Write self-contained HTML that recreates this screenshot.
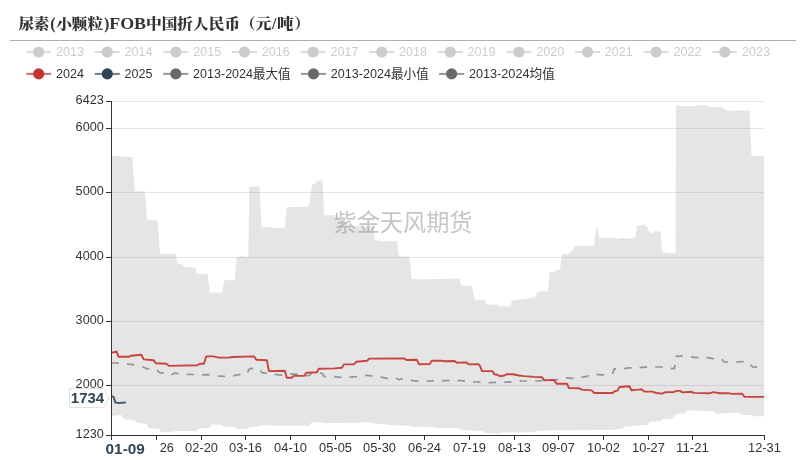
<!DOCTYPE html>
<html lang="zh"><head><meta charset="utf-8"><title>尿素(小颗粒)FOB中国折人民币（元/吨）</title>
<style>
html,body{margin:0;padding:0;background:#fff;}
body{width:806px;height:460px;overflow:hidden;position:relative;font-family:"Liberation Sans","Noto Sans CJK SC",sans-serif;}
svg{position:absolute;left:0;top:0;display:block;}
.ttl{font-family:"Liberation Serif","Noto Serif CJK SC",serif;font-weight:900;font-size:16px;fill:#333;}
.lg{font-size:13px;fill:#333;}
.lgo{font-size:13px;fill:#ccc;}
.ax{font-size:12px;fill:#333;}
.wm{font-size:24px;fill:#8c8c8c;fill-opacity:0.5;}
.ptr{font-size:15px;font-weight:bold;fill:#2f4554;}
</style></head><body>
<svg width="806" height="460" viewBox="0 0 806 460">
<rect x="0" y="0" width="806" height="460" fill="#ffffff"/>
<text class="ttl"><tspan x="18.2" y="28.7" font-size="15" textLength="31.3" lengthAdjust="spacingAndGlyphs">尿素</tspan><tspan x="50.2" y="28.8">(</tspan><tspan x="56.2" y="28.7" font-size="15" textLength="47" lengthAdjust="spacingAndGlyphs">小颗粒</tspan><tspan x="103.9" y="28.8">)</tspan><tspan x="109.2" y="28.8" textLength="36.9" lengthAdjust="spacingAndGlyphs">FOB</tspan><tspan x="146" y="28.7" font-size="15" textLength="125.5" lengthAdjust="spacingAndGlyphs">中国折人民币（元</tspan><tspan x="272.1" y="28.8">/</tspan><tspan x="277" y="28.7" font-size="15" textLength="16.5" lengthAdjust="spacingAndGlyphs">吨</tspan><tspan x="294.2" y="28.7" font-size="15" textLength="15.7" lengthAdjust="spacingAndGlyphs">）</tspan></text>
<rect x="10" y="40" width="786" height="1" fill="#b0b0b0"/>
<g><rect x="26.2" y="51" width="25" height="2" fill="#ccc" fill-opacity="0.7"/><circle cx="38.7" cy="52" r="5.6" fill="#ccc"/><text class="lgo" x="56.0" y="56" textLength="28" lengthAdjust="spacingAndGlyphs">2013</text></g>
<g><rect x="94.8" y="51" width="25" height="2" fill="#ccc" fill-opacity="0.7"/><circle cx="107.3" cy="52" r="5.6" fill="#ccc"/><text class="lgo" x="124.6" y="56" textLength="28" lengthAdjust="spacingAndGlyphs">2014</text></g>
<g><rect x="163.4" y="51" width="25" height="2" fill="#ccc" fill-opacity="0.7"/><circle cx="175.9" cy="52" r="5.6" fill="#ccc"/><text class="lgo" x="193.2" y="56" textLength="28" lengthAdjust="spacingAndGlyphs">2015</text></g>
<g><rect x="232.0" y="51" width="25" height="2" fill="#ccc" fill-opacity="0.7"/><circle cx="244.5" cy="52" r="5.6" fill="#ccc"/><text class="lgo" x="261.8" y="56" textLength="28" lengthAdjust="spacingAndGlyphs">2016</text></g>
<g><rect x="300.6" y="51" width="25" height="2" fill="#ccc" fill-opacity="0.7"/><circle cx="313.1" cy="52" r="5.6" fill="#ccc"/><text class="lgo" x="330.4" y="56" textLength="28" lengthAdjust="spacingAndGlyphs">2017</text></g>
<g><rect x="369.2" y="51" width="25" height="2" fill="#ccc" fill-opacity="0.7"/><circle cx="381.7" cy="52" r="5.6" fill="#ccc"/><text class="lgo" x="399.0" y="56" textLength="28" lengthAdjust="spacingAndGlyphs">2018</text></g>
<g><rect x="437.8" y="51" width="25" height="2" fill="#ccc" fill-opacity="0.7"/><circle cx="450.3" cy="52" r="5.6" fill="#ccc"/><text class="lgo" x="467.6" y="56" textLength="28" lengthAdjust="spacingAndGlyphs">2019</text></g>
<g><rect x="506.4" y="51" width="25" height="2" fill="#ccc" fill-opacity="0.7"/><circle cx="518.9" cy="52" r="5.6" fill="#ccc"/><text class="lgo" x="536.2" y="56" textLength="28" lengthAdjust="spacingAndGlyphs">2020</text></g>
<g><rect x="575.0" y="51" width="25" height="2" fill="#ccc" fill-opacity="0.7"/><circle cx="587.5" cy="52" r="5.6" fill="#ccc"/><text class="lgo" x="604.8" y="56" textLength="28" lengthAdjust="spacingAndGlyphs">2021</text></g>
<g><rect x="643.6" y="51" width="25" height="2" fill="#ccc" fill-opacity="0.7"/><circle cx="656.1" cy="52" r="5.6" fill="#ccc"/><text class="lgo" x="673.4" y="56" textLength="28" lengthAdjust="spacingAndGlyphs">2022</text></g>
<g><rect x="712.2" y="51" width="25" height="2" fill="#ccc" fill-opacity="0.7"/><circle cx="724.7" cy="52" r="5.6" fill="#ccc"/><text class="lgo" x="742.0" y="56" textLength="28" lengthAdjust="spacingAndGlyphs">2023</text></g>
<g><rect x="26.2" y="72.9" width="25" height="2" fill="#c23531" fill-opacity="0.7"/><circle cx="38.7" cy="73.9" r="5.6" fill="#c23531"/><text class="lg" x="56.0" y="77.7" textLength="28" lengthAdjust="spacingAndGlyphs">2024</text></g>
<g><rect x="94.8" y="72.9" width="25" height="2" fill="#2f4554" fill-opacity="0.7"/><circle cx="107.3" cy="73.9" r="5.6" fill="#2f4554"/><text class="lg" x="124.6" y="77.7" textLength="28" lengthAdjust="spacingAndGlyphs">2025</text></g>
<g><rect x="163.3" y="72.9" width="25" height="2" fill="#696969" fill-opacity="0.7"/><circle cx="175.8" cy="73.9" r="5.6" fill="#696969"/><text class="lg" x="193.1" y="77.7" textLength="97.5" lengthAdjust="spacingAndGlyphs">2013-2024最大值</text></g>
<g><rect x="301.0" y="72.9" width="25" height="2" fill="#696969" fill-opacity="0.7"/><circle cx="313.5" cy="73.9" r="5.6" fill="#696969"/><text class="lg" x="330.8" y="77.7" textLength="98" lengthAdjust="spacingAndGlyphs">2013-2024最小值</text></g>
<g><rect x="439.1" y="72.9" width="25" height="2" fill="#696969" fill-opacity="0.7"/><circle cx="451.6" cy="73.9" r="5.6" fill="#696969"/><text class="lg" x="468.9" y="77.7" textLength="86" lengthAdjust="spacingAndGlyphs">2013-2024均值</text></g>
<rect x="111.4" y="101" width="652.7" height="1" fill="#e5e5e5"/>
<rect x="111.4" y="128" width="652.7" height="1" fill="#e5e5e5"/>
<rect x="111.4" y="192" width="652.7" height="1" fill="#e5e5e5"/>
<rect x="111.4" y="257" width="652.7" height="1" fill="#e5e5e5"/>
<rect x="111.4" y="321" width="652.7" height="1" fill="#e5e5e5"/>
<rect x="111.4" y="385" width="652.7" height="1" fill="#e5e5e5"/>
<path d="M111.4 156.1 L132.4 156.9 L134.8 191.6 L144.7 191.2 L147.1 220.0 L157.6 220.4 L160.0 254.1 L175.5 254.1 L177.5 263.8 L182.8 264.6 L184.4 267.0 L195.3 267.4 L196.9 273.8 L207.6 274.0 L209.8 292.6 L222.1 292.6 L224.1 280.3 L234.6 280.3 L236.6 257.3 L243.4 256.1 L246.3 256.9 L248.3 257.0 L249.3 186.9 L259.4 186.3 L261.6 227.6 L270.0 227.0 L273.0 228.2 L284.8 228.0 L286.8 207.3 L307.0 206.7 L309.6 203.7 L312.0 184.3 L315.5 183.5 L317.0 180.9 L320.5 180.9 L322.5 178.9 L324.1 215.3 L334.9 215.3 L350.0 226.0 L373.7 226.2 L374.7 239.5 L382.0 241.5 L397.0 241.0 L399.0 256.5 L409.3 256.4 L411.7 279.0 L420.0 279.5 L459.5 278.5 L461.5 285.5 L472.0 286.1 L474.4 299.8 L484.7 300.0 L486.7 304.8 L497.2 304.4 L499.2 306.6 L510.1 306.6 L512.1 300.8 L520.0 299.4 L534.0 297.5 L535.5 296.5 L537.0 292.5 L541.9 290.9 L546.9 291.5 L547.8 291.5 L549.8 272.0 L553.9 271.9 L555.9 270.5 L559.9 269.5 L562.1 254.0 L567.8 254.0 L571.8 252.0 L574.8 245.7 L594.0 245.9 L596.2 227.8 L597.6 229.4 L599.2 238.1 L615.5 238.1 L617.5 239.1 L622.4 238.1 L632.3 238.7 L635.3 236.7 L637.3 225.4 L642.3 225.2 L644.3 223.4 L646.2 227.4 L647.4 226.8 L649.8 232.8 L653.2 232.8 L654.8 230.8 L657.2 231.8 L660.5 230.8 L662.1 252.2 L666.0 252.5 L667.5 253.3 L669.0 252.5 L671.0 253.6 L673.0 253.0 L675.5 253.3 L676.1 105.3 L677.0 105.3 L682.2 106.2 L693.5 106.2 L700.4 105.3 L705.7 105.3 L710.0 106.9 L720.4 106.9 L723.9 108.3 L726.5 110.5 L732.6 111.0 L740.4 110.3 L749.5 110.7 L751.6 156.1 L764.1 156.1 L764.1 416.2 L754.1 416.2 L751.2 415.2 L741.2 414.4 L739.3 412.8 L716.4 413.8 L713.4 411.2 L697.6 410.4 L687.5 410.5 L685.6 413.0 L675.1 414.6 L673.2 418.6 L662.0 419.6 L660.8 421.1 L649.6 422.1 L647.8 424.8 L624.2 426.7 L622.3 428.8 L617.4 429.2 L615.5 429.8 L602.3 430.0 L554.7 430.2 L536.8 430.7 L533.9 432.2 L511.9 432.2 L502.0 432.6 L498.0 433.4 L487.1 433.2 L482.1 431.0 L462.3 429.9 L458.3 428.3 L437.5 427.9 L432.5 427.1 L412.6 426.7 L408.7 425.7 L388.8 425.1 L384.9 424.3 L375.0 423.7 L372.0 422.7 L365.9 422.3 L354.0 422.7 L324.2 423.1 L322.2 422.3 L311.9 422.3 L309.3 425.7 L274.6 425.7 L262.6 425.1 L259.7 426.3 L249.7 427.1 L246.8 429.1 L236.8 429.1 L233.9 427.1 L223.9 426.7 L221.0 424.7 L211.4 424.5 L209.2 427.9 L198.8 428.5 L196.6 431.2 L185.4 430.9 L173.8 431.2 L172.0 432.3 L161.3 432.3 L158.6 428.5 L148.9 428.2 L146.7 424.0 L136.3 422.5 L134.0 420.3 L123.6 418.9 L121.4 415.1 L111.4 416.0 Z" fill="#999" fill-opacity="0.25"/>
<text class="wm" x="403" y="231" text-anchor="middle" textLength="139" lengthAdjust="spacingAndGlyphs">紫金天风期货</text>
<path d="M111.4 363.0 L118.9 363.0 L127.8 364.0 L132.8 364.7 L141.7 366.3 L146.7 368.7 L156.6 369.7 L159.6 372.7 L162.6 372.9 L171.5 374.7 L174.5 373.1 L177.5 373.5 L186.4 374.3 L193.3 374.5 L202.3 374.9 L208.2 374.7 L217.2 376.0 L224.1 376.3 L234.0 375.7 L240.0 374.5 L246.9 373.7 L248.9 369.7 L250.9 368.3 L259.4 369.1 L262.0 372.7 L265.0 373.1 L273.9 374.3 L280.8 375.1 L288.7 373.9 L296.7 374.1 L305.6 375.7 L309.6 375.3 L311.6 373.1 L319.5 372.7 L322.5 373.7 L324.5 376.7 L334.4 376.7 L340.4 377.3 L350.3 377.1 L356.2 376.7 L366.2 375.3 L372.1 375.9 L381.1 377.1 L387.0 378.3 L396.0 378.3 L398.9 379.7 L401.9 378.7 L410.8 380.3 L415.0 380.9 L425.8 381.0 L445.0 380.7 L461.0 380.7 L475.0 382.0 L490.0 382.6 L506.0 382.2 L522.0 381.0 L538.0 381.0 L552.0 380.3 L560.0 379.0 L564.5 377.7 L571.9 378.3 L579.8 377.7 L586.8 376.3 L594.7 374.1 L601.6 374.9 L610.6 374.7 L613.0 372.8 L614.2 368.8 L622.5 368.8 L629.4 367.8 L637.4 367.8 L645.3 367.2 L653.3 367.0 L660.2 367.0 L669.1 368.2 L674.5 368.6 L676.1 356.4 L680.8 356.1 L689.8 356.7 L696.5 357.6 L705.4 357.1 L712.9 358.6 L721.8 359.1 L724.0 362.0 L735.9 362.0 L743.4 361.6 L748.0 362.0 L750.5 364.6 L752.3 366.8 L756.8 367.1 L764.1 367.1" fill="none" stroke="#959595" stroke-width="1.7" stroke-dasharray="7.53 8.04" stroke-linejoin="round"/>
<path d="M111.4 352.8 L116.5 351.4 L118.5 356.8 L128.8 356.8 L130.8 355.8 L141.3 354.8 L143.7 359.4 L153.6 360.2 L156.0 363.3 L166.5 363.7 L168.9 365.9 L197.3 365.3 L199.9 363.7 L203.9 363.7 L206.2 356.4 L213.2 356.4 L219.1 357.6 L229.1 357.6 L232.0 357.0 L253.9 356.4 L256.6 359.8 L266.9 360.2 L268.9 371.1 L284.8 370.7 L286.8 377.7 L291.7 377.7 L293.7 375.9 L304.2 375.9 L306.2 372.7 L316.9 372.3 L318.9 368.7 L334.4 368.4 L342.0 367.8 L343.9 364.4 L353.9 364.4 L356.2 361.8 L367.2 360.8 L369.1 358.6 L403.9 358.4 L406.5 360.0 L416.9 359.8 L418.9 364.2 L429.8 364.0 L431.8 360.8 L441.7 360.8 L444.7 361.2 L454.6 361.0 L457.0 362.8 L466.5 362.4 L468.9 364.4 L478.4 364.2 L480.0 365.8 L482.0 371.1 L492.3 371.1 L494.3 374.3 L497.3 374.7 L499.9 376.3 L504.3 375.5 L506.6 374.3 L513.2 374.3 L519.1 375.5 L524.1 376.1 L534.0 376.9 L542.0 377.3 L544.4 380.3 L553.9 379.9 L556.5 383.7 L566.9 383.7 L568.9 388.0 L578.8 388.2 L581.8 389.6 L591.7 390.4 L594.3 393.0 L612.6 393.0 L614.6 391.2 L617.5 390.6 L619.5 387.0 L629.4 386.3 L631.4 390.2 L638.4 389.6 L641.4 389.2 L644.3 391.6 L652.3 391.6 L656.2 393.0 L662.2 393.6 L665.5 392.2 L673.4 392.1 L676.4 390.9 L680.1 390.9 L682.3 392.4 L691.3 391.8 L694.2 392.9 L709.1 393.3 L713.6 392.1 L719.6 393.3 L728.5 393.1 L732.2 393.9 L741.9 393.6 L744.6 396.9 L764.1 396.9" fill="none" stroke="#c84440" stroke-width="1.9" stroke-linejoin="round"/>
<path d="M111.4 396.2 L113.6 396.9 L115.4 402.6 L119.1 402.9 L125.8 402.4" fill="none" stroke="#2f4554" stroke-width="2" stroke-linejoin="round" stroke-opacity="0.85"/>
<rect x="111" y="101" width="1" height="335" fill="#333"/>
<rect x="111" y="435" width="654" height="1" fill="#333"/>
<rect x="106" y="101" width="5" height="1" fill="#333"/>
<text class="ax" x="75.6" y="104.2" textLength="28.2" lengthAdjust="spacingAndGlyphs">6423</text>
<rect x="106" y="128" width="5" height="1" fill="#333"/>
<text class="ax" x="75.6" y="131.2" textLength="28.2" lengthAdjust="spacingAndGlyphs">6000</text>
<rect x="106" y="192" width="5" height="1" fill="#333"/>
<text class="ax" x="75.6" y="195.2" textLength="28.2" lengthAdjust="spacingAndGlyphs">5000</text>
<rect x="106" y="257" width="5" height="1" fill="#333"/>
<text class="ax" x="75.6" y="260.2" textLength="28.2" lengthAdjust="spacingAndGlyphs">4000</text>
<rect x="106" y="321" width="5" height="1" fill="#333"/>
<text class="ax" x="75.6" y="324.2" textLength="28.2" lengthAdjust="spacingAndGlyphs">3000</text>
<rect x="106" y="385" width="5" height="1" fill="#333"/>
<text class="ax" x="75.6" y="388.2" textLength="28.2" lengthAdjust="spacingAndGlyphs">2000</text>
<rect x="106" y="435" width="5" height="1" fill="#333"/>
<text class="ax" x="75.6" y="438.2" textLength="28.2" lengthAdjust="spacingAndGlyphs">1230</text>
<rect x="111" y="436" width="1" height="4" fill="#333"/>
<rect x="156" y="436" width="1" height="4" fill="#333"/>
<text class="ax" x="159.7" y="452" textLength="14.2" lengthAdjust="spacingAndGlyphs">26</text>
<rect x="201" y="436" width="1" height="4" fill="#333"/>
<text class="ax" x="185.1" y="452" textLength="32.9" lengthAdjust="spacingAndGlyphs">02-20</text>
<rect x="245" y="436" width="1" height="4" fill="#333"/>
<text class="ax" x="229.1" y="452" textLength="32.9" lengthAdjust="spacingAndGlyphs">03-16</text>
<rect x="290" y="436" width="1" height="4" fill="#333"/>
<text class="ax" x="274.1" y="452" textLength="32.9" lengthAdjust="spacingAndGlyphs">04-10</text>
<rect x="335" y="436" width="1" height="4" fill="#333"/>
<text class="ax" x="319.1" y="452" textLength="32.9" lengthAdjust="spacingAndGlyphs">05-05</text>
<rect x="379" y="436" width="1" height="4" fill="#333"/>
<text class="ax" x="363.1" y="452" textLength="32.9" lengthAdjust="spacingAndGlyphs">05-30</text>
<rect x="424" y="436" width="1" height="4" fill="#333"/>
<text class="ax" x="408.1" y="452" textLength="32.9" lengthAdjust="spacingAndGlyphs">06-24</text>
<rect x="469" y="436" width="1" height="4" fill="#333"/>
<text class="ax" x="453.1" y="452" textLength="32.9" lengthAdjust="spacingAndGlyphs">07-19</text>
<rect x="514" y="436" width="1" height="4" fill="#333"/>
<text class="ax" x="498.1" y="452" textLength="32.9" lengthAdjust="spacingAndGlyphs">08-13</text>
<rect x="558" y="436" width="1" height="4" fill="#333"/>
<text class="ax" x="542.0" y="452" textLength="32.9" lengthAdjust="spacingAndGlyphs">09-07</text>
<rect x="603" y="436" width="1" height="4" fill="#333"/>
<text class="ax" x="587.0" y="452" textLength="32.9" lengthAdjust="spacingAndGlyphs">10-02</text>
<rect x="648" y="436" width="1" height="4" fill="#333"/>
<text class="ax" x="632.0" y="452" textLength="32.9" lengthAdjust="spacingAndGlyphs">10-27</text>
<rect x="692" y="436" width="1" height="4" fill="#333"/>
<text class="ax" x="676.0" y="452" textLength="32.9" lengthAdjust="spacingAndGlyphs">11-21</text>
<rect x="764" y="436" width="1" height="4" fill="#333"/>
<text class="ax" x="748.0" y="452" textLength="32.9" lengthAdjust="spacingAndGlyphs">12-31</text>
<path d="M69.5 388.5 H103.8 L108.7 398 L103.8 407.5 H69.5 Z" fill="#fff" stroke="#e2e2e2" stroke-width="1"/>
<text class="ptr" x="70.8" y="403" textLength="33.4" lengthAdjust="spacingAndGlyphs">1734</text>
<text class="ptr" x="105.6" y="453.7" textLength="39.2" lengthAdjust="spacingAndGlyphs">01-09</text>
</svg>
</body></html>
